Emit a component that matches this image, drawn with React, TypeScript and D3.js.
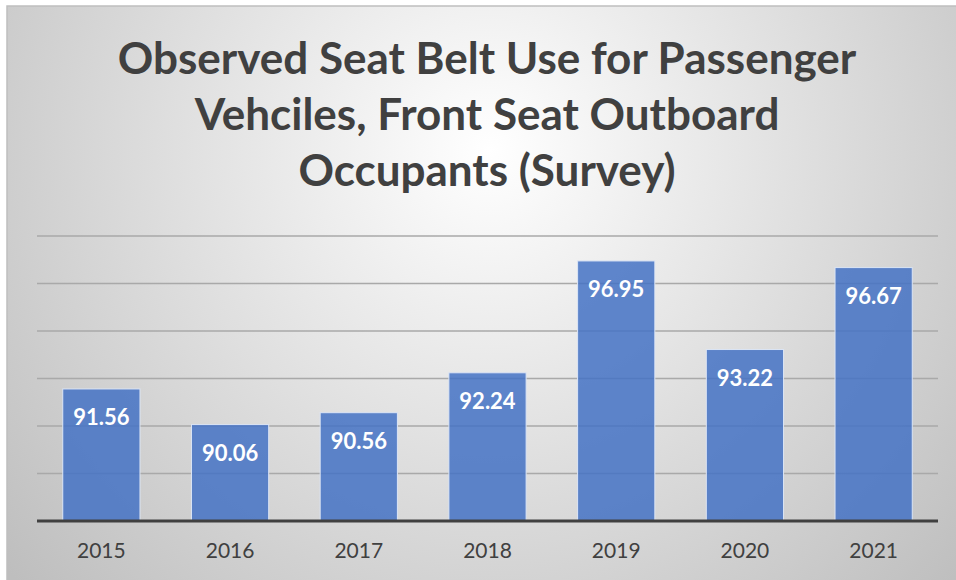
import React, { useEffect, useRef } from 'react';
import * as d3 from 'd3';

const years = ['2015', '2016', '2017', '2018', '2019', '2020', '2021'];
const beltUse = [91.56, 90.06, 90.56, 92.24, 96.95, 93.22, 96.67];
const yTicks = [86, 88, 90, 92, 94, 96, 98];
const titleLines = [
  'Observed Seat Belt Use for Passenger',
  'Vehciles, Front Seat Outboard',
  'Occupants (Survey)',
];

const W = 956;
const H = 580;

const App: React.FC = () => {
  const svgRef = useRef<SVGSVGElement>(null);

  useEffect(() => {
    if (!svgRef.current) return;
    const svg = d3.select(svgRef.current);
    svg.selectAll('*').remove();

    const font = 'Lato, "Open Sans", sans-serif';
    const plot = { left: 37, right: 938, top: 236, bottom: 521 };

    // background gradient, office style
    const defs = svg.append('defs');
    const grad = defs.append('radialGradient')
      .attr('id', 'bg')
      .attr('gradientUnits', 'userSpaceOnUse')
      .attr('cx', 490).attr('cy', 150).attr('r', 640);
    grad.append('stop').attr('offset', '0%').attr('stop-color', '#ffffff');
    grad.append('stop').attr('offset', '100%').attr('stop-color', '#bebebe');

    svg.append('rect')
      .attr('x', 0).attr('y', 0).attr('width', W).attr('height', H)
      .attr('fill', '#ffffff');
    svg.append('rect')
      .attr('x', 7).attr('y', 6).attr('width', W - 7).attr('height', H - 6)
      .attr('fill', 'url(#bg)');
    // top + left border
    svg.append('path')
      .attr('d', `M7,${H} L7,6 L${W},6`)
      .attr('fill', 'none')
      .attr('stroke', '#bfbfbf')
      .attr('stroke-width', 1.5);

    const x = d3.scaleBand<string>()
      .domain(years)
      .range([plot.left, plot.right])
      .paddingInner(0.4)
      .paddingOuter(0.2);

    const y = d3.scaleLinear()
      .domain([86, 98])
      .range([plot.bottom, plot.top]);

    // gridlines
    svg.append('g')
      .selectAll('line')
      .data(yTicks.filter(t => t > 86))
      .join('line')
      .attr('x1', plot.left).attr('x2', plot.right)
      .attr('y1', d => y(d)).attr('y2', d => y(d))
      .attr('stroke', '#a9a9a9')
      .attr('stroke-width', 1.5);

    // bars
    svg.append('g')
      .selectAll('rect')
      .data(beltUse)
      .join('rect')
      .attr('x', (_, i) => x(years[i])!)
      .attr('y', d => y(d))
      .attr('width', x.bandwidth())
      .attr('height', d => y(86) - y(d))
      .attr('fill', '#4472c4')
      .attr('fill-opacity', 0.85)
      .attr('stroke', '#dce5f5')
      .attr('stroke-width', 1);

    // value labels
    svg.append('g')
      .selectAll('text')
      .data(beltUse)
      .join('text')
      .attr('x', (_, i) => x(years[i])! + x.bandwidth() / 2)
      .attr('y', d => y(d) + 36)
      .attr('text-anchor', 'middle')
      .attr('font-family', font)
      .attr('font-weight', 'bold')
      .attr('font-size', '22px')
      .attr('fill', '#ffffff')
      .text(d => d.toFixed(2));

    // baseline
    svg.append('line')
      .attr('x1', plot.left).attr('x2', plot.right)
      .attr('y1', plot.bottom).attr('y2', plot.bottom)
      .attr('stroke', '#404040')
      .attr('stroke-width', 3);

    // x labels
    svg.append('g')
      .selectAll('text')
      .data(years)
      .join('text')
      .attr('x', d => x(d)! + x.bandwidth() / 2)
      .attr('y', 558)
      .attr('text-anchor', 'middle')
      .attr('font-family', font)
      .attr('font-size', '21px')
      .attr('fill', '#404040')
      .text(d => d);

    // title
    svg.append('g')
      .selectAll('text')
      .data(titleLines)
      .join('text')
      .attr('x', 487)
      .attr('y', (_, i) => 74 + i * 56)
      .attr('text-anchor', 'middle')
      .attr('font-family', font)
      .attr('font-weight', 'bold')
      .attr('font-size', '44px')
      .attr('fill', '#404040')
      .text(d => d);
  }, []);

  return (
    <svg
      ref={svgRef}
      width={W}
      height={H}
      style={{ position: 'absolute', left: 0, top: 0, display: 'block' }}
    />
  );
};

export default App;
